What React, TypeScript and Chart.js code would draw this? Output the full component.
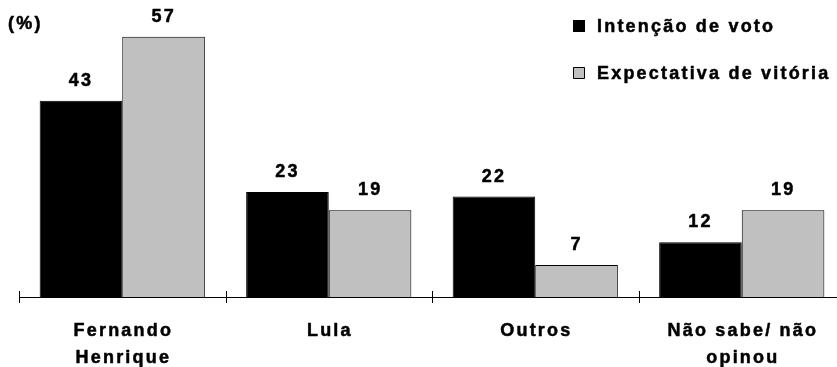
import React, { useEffect, useRef } from "react";
import { Chart, registerables } from "chart.js";

Chart.register(...registerables);

const categories: (string | string[])[] = [
  ["Fernando", "Henrique"],
  "Lula",
  "Outros",
  ["Não sabe/ não", "opinou"],
];
const intencaoVoto = [43, 23, 22, 12];
const expectativaVitoria = [57, 19, 7, 19];
const seriesNames = ["Intenção de voto", "Expectativa de vitória"];
const seriesColors = ["#000000", "#c0c0c0"];
const unitLabel = "(%)";

const FONT = 'bold 18px "Liberation Sans", Arial, sans-serif';
const SPACING = 2.2;

function drawSpaced(
  ctx: CanvasRenderingContext2D,
  text: string,
  x: number,
  y: number,
  align: "left" | "center"
) {
  const chars = Array.from(text);
  const widths = chars.map((c) => ctx.measureText(c).width);
  const total = widths.reduce((a, b) => a + b, 0) + SPACING * (chars.length - 1);
  let cx = align === "center" ? x - total / 2 : x;
  ctx.textAlign = "left";
  ctx.lineWidth = 0.5;
  ctx.lineJoin = "round";
  ctx.strokeStyle = "#000";
  chars.forEach((c, i) => {
    ctx.fillText(c, cx, y);
    ctx.strokeText(c, cx, y);
    cx += widths[i] + SPACING;
  });
}

const overlay = {
  id: "overlay",
  afterDraw(chart: any) {
    const ctx = chart.ctx as CanvasRenderingContext2D;
    const xs = chart.scales.x;
    const area = chart.chartArea;
    ctx.save();
    // tick marks crossing the axis at category boundaries
    ctx.strokeStyle = "#000";
    ctx.lineWidth = 1;
    const n = categories.length;
    for (let i = 0; i <= n; i++) {
      const x = Math.round(xs.left + (i * (xs.right - xs.left)) / n) + 0.5;
      ctx.beginPath();
      ctx.moveTo(x, area.bottom - 6);
      ctx.lineTo(x, area.bottom + 6);
      ctx.stroke();
    }
    ctx.fillStyle = "#000";
    ctx.font = FONT;
    ctx.textBaseline = "alphabetic";
    // category labels
    categories.forEach((lab, i) => {
      const lines = Array.isArray(lab) ? lab : [lab];
      const cx = xs.getPixelForValue(i);
      lines.forEach((line, li) => {
        drawSpaced(ctx, line, cx, area.bottom + 39 + li * 27, "center");
      });
    });
    // value labels
    chart.data.datasets.forEach((ds: any, di: number) => {
      const meta = chart.getDatasetMeta(di);
      meta.data.forEach((bar: any, i: number) => {
        drawSpaced(ctx, String(ds.data[i]), bar.x - 1, bar.y - 15, "center");
      });
    });
    // unit label
    drawSpaced(ctx, unitLabel, 8, 29, "left");
    // legend
    const ys = [26, 73];
    seriesNames.forEach((name, i) => {
      ctx.fillStyle = seriesColors[i];
      ctx.fillRect(573, ys[i] - 6, 12, 12);
      ctx.strokeStyle = "#000";
      ctx.lineWidth = 1;
      ctx.strokeRect(573.5, ys[i] - 5.5, 11, 11);
      ctx.fillStyle = "#000";
      drawSpaced(ctx, name, 597, ys[i] + 6, "left");
    });
    ctx.restore();
  },
};

export default function App() {
  const ref = useRef<HTMLCanvasElement | null>(null);
  useEffect(() => {
    if (!ref.current) return;
    const chart = new Chart(ref.current, {
      type: "bar",
      data: {
        labels: categories,
        datasets: [
          {
            label: seriesNames[0],
            data: intencaoVoto,
            backgroundColor: seriesColors[0],
            borderColor: "#000000",
            borderWidth: 1,
            categoryPercentage: 0.8,
            barPercentage: 1,
          },
          {
            label: seriesNames[1],
            data: expectativaVitoria,
            backgroundColor: seriesColors[1],
            borderColor: "#000000",
            borderWidth: 1,
            categoryPercentage: 0.8,
            barPercentage: 1,
          },
        ],
      },
      options: {
        responsive: false,
        animation: false,
        layout: { padding: { left: 19, right: 15, top: 23, bottom: 0 } },
        plugins: { legend: { display: false }, tooltip: { enabled: false } },
        scales: {
          x: {
            grid: { display: false },
            border: { display: true, color: "#000", width: 1 },
            ticks: { display: false },
            afterFit: (s: any) => {
              s.height = 70;
            },
          },
          y: { display: false, min: 0, max: 60 },
        },
      },
      plugins: [overlay],
    });
    return () => chart.destroy();
  }, []);
  return (
    <div
      style={{
        position: "fixed",
        left: 0,
        top: 0,
        width: 837,
        height: 367,
        overflow: "hidden",
        background: "#fff",
      }}
    >
      <canvas ref={ref} width={860} height={367} style={{ width: 860, height: 367, display: "block" }} />
    </div>
  );
}
